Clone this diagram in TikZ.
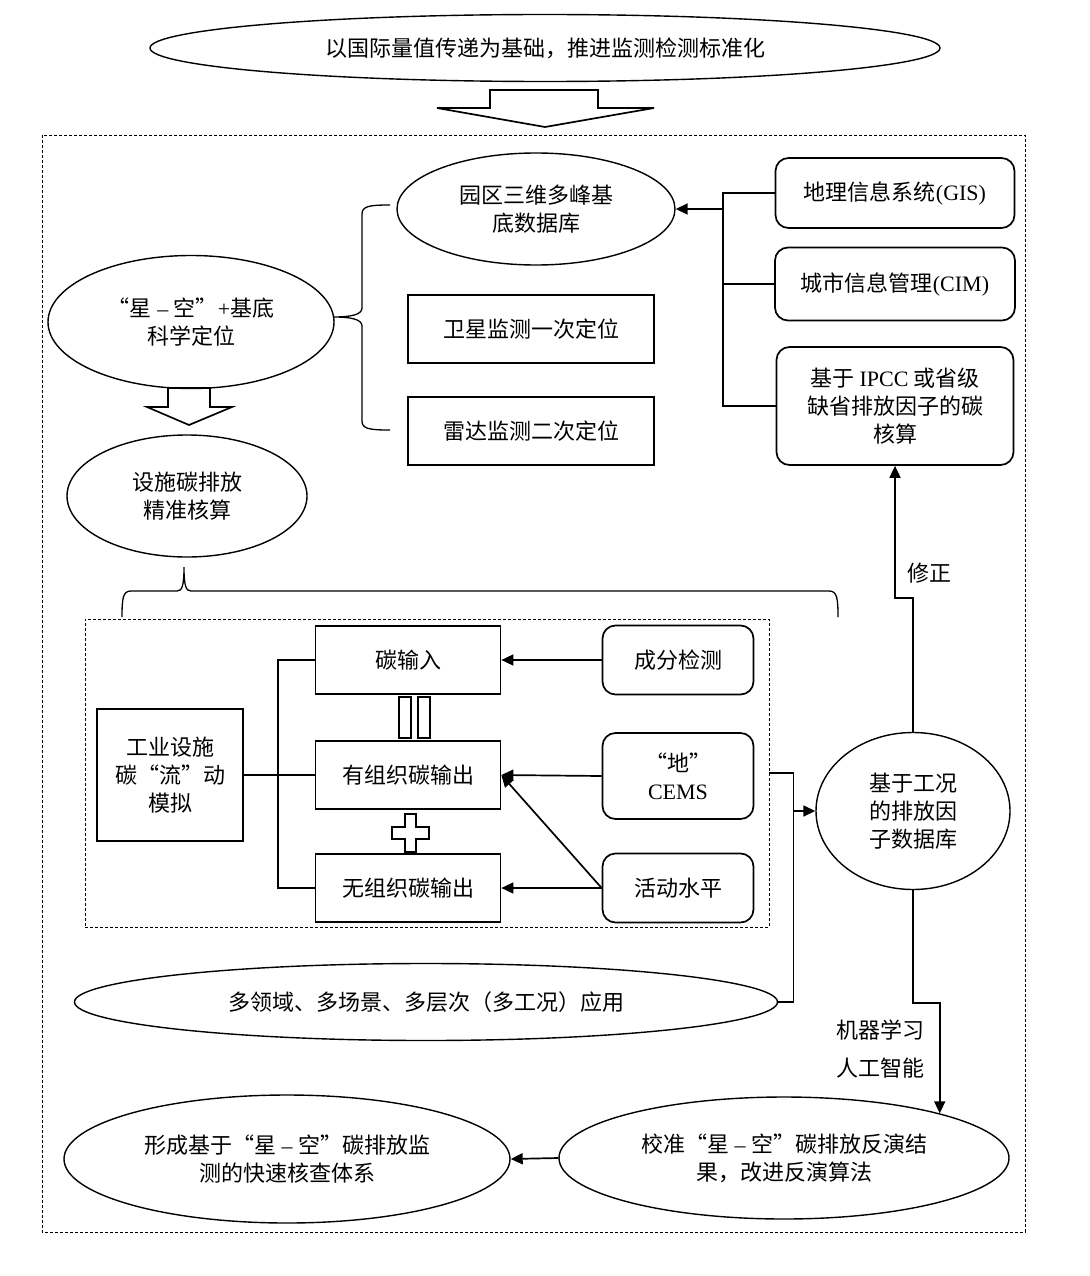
\documentclass[tikz,border=0pt]{standalone}
\usepackage{fontspec}
\setmainfont{Liberation Serif}
\newfontfamily\cjk{Noto Sans CJK SC}
\usetikzlibrary{arrows.meta,shapes.geometric}
\newcommand{\lat}[1]{{\rmfamily #1}}
\tikzset{
	every node/.style={font=\cjk\fontsize{22}{28}\selectfont, align=center, inner sep=0pt},
	ell/.style={draw, ellipse, line width=1.4pt},
	kasten/.style={draw, rectangle, line width=1.7pt},
	rkasten/.style={draw, rectangle, rounded corners=13pt, line width=1.7pt},
	linie/.style={line width=1.7pt},
	pfeil/.style={line width=1.7pt, -{Triangle[length=12pt,width=11pt]}},
	rahmen/.style={draw, line width=0.8pt, dash pattern=on 3pt off 2pt},
	klammer/.style={line width=1.3pt},
}
\begin{document}
\begin{tikzpicture}[x=1pt,y=-1pt]
		\useasboundingbox (0,0) rectangle (1089,1276);
		%Rahmen
		\draw[rahmen] (42,135) rectangle (1025,1232);
		\node[rahmen, minimum width=684, minimum height=308] (sim) at (427,773) {};

		%oben
		\node[ell, minimum width=790, minimum height=67] (basis) at (545,48) {以国际量值传递为基础，推进监测检测标准化};
		\draw[linie] (490,90) -- (598,90) -- (598,108) -- (654,108) -- (545,127) -- (437,108) -- (490,108) -- cycle;

		%Ortung
		\node[ell, minimum width=278, minimum height=112] (yq) at (536,209) {园区三维多峰基\\底数据库};
		\node[ell, minimum width=286, minimum height=133] (xk) at (191,322) {“星\lat{ – }空”\lat{+}基底\\科学定位};
		\node[kasten, minimum width=246, minimum height=68] (wx) at (531,329) {卫星监测一次定位};
		\node[kasten, minimum width=246, minimum height=68] (ld) at (531,431) {雷达监测二次定位};
		%Klammer links
		\coordinate (ko) at (390,205);
		\coordinate (ku) at (390,430);
		\draw[klammer] (ko) .. controls (370,205) and (362,206) .. (362,214) -- (362,308)
			.. controls (362,315) and (350,317) .. (333,317) .. controls (350,317) and (362,319) .. (362,326)
			-- (362,421) .. controls (362,429) and (370,430) .. (ku);

		%Daten
		\node[rkasten, minimum width=239, minimum height=70] (gis) at (895,193) {地理信息系统\lat{(GIS)}};
		\node[rkasten, minimum width=240, minimum height=73] (cim) at (895,284) {城市信息管理\lat{(CIM)}};
		\node[rkasten, minimum width=237, minimum height=118] (ipcc) at (895,406) {基于\lat{ IPCC }或省级\\缺省排放因子的碳\\核算};
		\draw[linie] (gis.west) -- ++(-52,0) coordinate (bus) |- (ipcc.west);
		\draw[linie] (cim.west) -- (cim.west -| bus);
		\draw[pfeil] (bus |- yq.east) -- (yq.east);

		%Bilanz
		\draw[linie] (168,388) -- (210,388) -- (210,407) -- (232,407) -- (189,425) -- (147,407) -- (168,407) -- cycle;
		\node[ell, minimum width=240, minimum height=122] (ss) at (187,496) {设施碳排放\\精准核算};
		%Klammer unten
		\coordinate (kl) at (122,617);
		\coordinate (kr) at (838,617);
		\draw[klammer] (kl) .. controls (122,598) and (123,591) .. (131,591) -- (177,591)
			.. controls (182,591) and (184,586) .. (184,567) .. controls (184,586) and (186,591) .. (191,591)
			-- (829,591) .. controls (837,591) and (838,598) .. (kr);

		%Kohlenstofffluss
		\node[kasten, minimum width=146, minimum height=132] (gy) at (170,775) {工业设施\\碳“流”动\\模拟};
		\node[kasten, minimum width=185, minimum height=68] (ein) at (408,660) {碳输入};
		\node[kasten, minimum width=185, minimum height=68] (org) at (408,775) {有组织碳输出};
		\node[kasten, minimum width=185, minimum height=68] (unorg) at (408,888) {无组织碳输出};
		\node[rkasten, minimum width=151, minimum height=69] (cf) at (678,660) {成分检测};
		\node[rkasten, minimum width=151, minimum height=86] (cems) at (678,776) {“地”\\\lat{CEMS}};
		\node[rkasten, minimum width=151, minimum height=69] (hd) at (678,888) {活动水平};
		\draw[linie] (399,697) rectangle (411,738);
		\draw[linie] (418,697) rectangle (430,738);
		\draw[linie] (405,814) -- (416,814) -- (416,827) -- (429,827) -- (429,839) -- (416,839) -- (416,852)
			-- (405,852) -- (405,839) -- (392,839) -- (392,827) -- (405,827) -- cycle;
		\draw[linie] (ein.west) -- ++(-37,0) coordinate (lb) |- (unorg.west);
		\draw[linie] (gy.east) -- (org.west);
		\draw[pfeil] (cf.west) -- (ein.east);
		\draw[pfeil] (cems.west) -- (org.east);
		\draw[pfeil] (hd.west) -- (unorg.east);
		\draw[pfeil] (hd.west) -- (org.east);

		%rechts und unten
		\node[ell, minimum width=194, minimum height=157] (gk) at (913,811) {基于工况\\的排放因\\子数据库};
		\node[ell, minimum width=703, minimum height=77] (dly) at (426,1002) {多领域、多场景、多层次（多工况）应用};
		\node[ell, minimum width=446, minimum height=128] (xc) at (287,1159) {形成基于“星\lat{ – }空”碳排放监\\测的快速核查体系};
		\node[ell, minimum width=450, minimum height=122] (jz) at (784,1158) {校准“星\lat{ – }空”碳排放反演结\\果，改进反演算法};
		\draw[linie] (sim.east) -- ++(24,0) coordinate (rb) |- (dly.east);
		\draw[pfeil] (rb |- gk.west) -- (gk.west);
		\draw[pfeil] (gk.north) -- ++(0,-134) -| (ipcc.south);
		\node (xz) at (929,573) {修正};
		\draw[pfeil] (gk.south) -- ++(0,113) -| (jz.16);
		\node (ml) at (880,1030) {机器学习};
		\node (ki) at (880,1068) {人工智能};
		\draw[pfeil] (jz.west) -- (xc.east);
	\end{tikzpicture}
\end{document}
